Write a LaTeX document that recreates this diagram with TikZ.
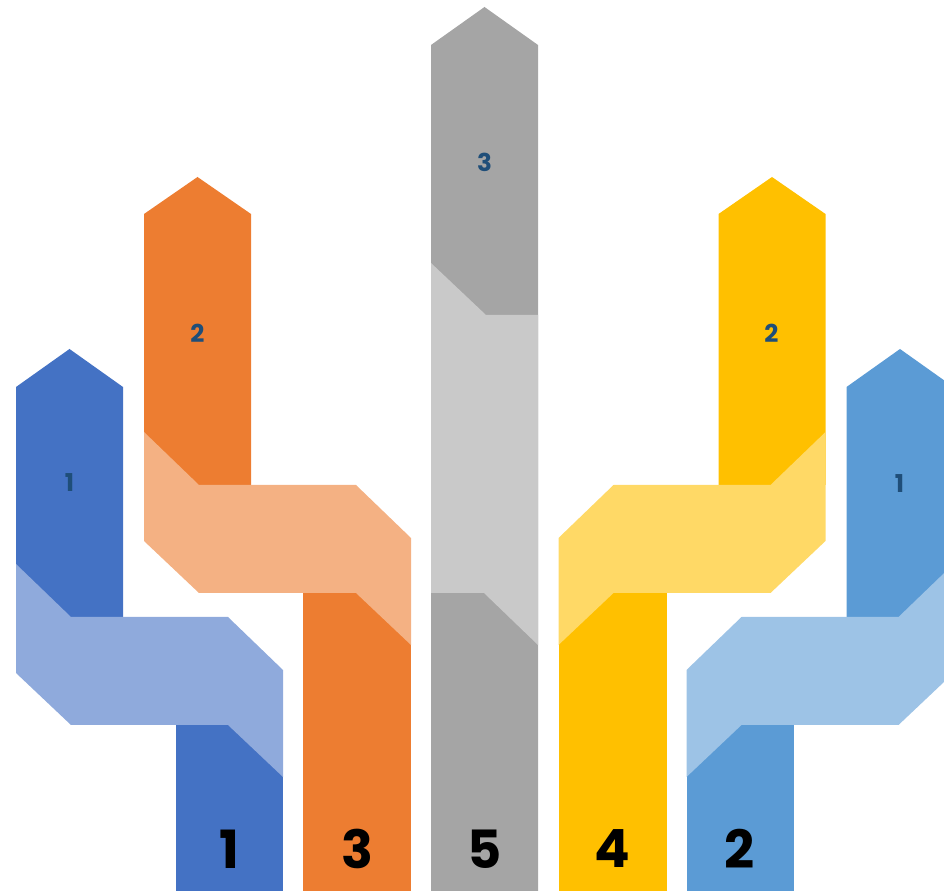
\documentclass[tikz,border=0pt]{standalone}
\usepackage{fontspec}
\setmainfont{Poppins}
\definecolor{cBlue}{HTML}{4472C4}
\definecolor{cBlueLt}{HTML}{8FAADC}
\definecolor{cOrange}{HTML}{ED7D31}
\definecolor{cOrangeLt}{HTML}{F4B183}
\definecolor{cGray}{HTML}{A5A5A5}
\definecolor{cGrayLt}{HTML}{C9C9C9}
\definecolor{cGold}{HTML}{FFC000}
\definecolor{cGoldLt}{HTML}{FFD966}
\definecolor{cSky}{HTML}{5B9BD5}
\definecolor{cSkyLt}{HTML}{9DC3E6}
\definecolor{cTag}{HTML}{1F4E79}
\tikzset{
  tag/.style={font=\fontsize{14}{14}\selectfont\bfseries, text=cTag, inner sep=0pt},
  rank/.style={font=\fontsize{30}{30}\selectfont\bfseries, text=black, inner sep=0pt},
}

\begin{document}
\begin{tikzpicture}[x=0.02cm,y=-0.02cm]
\useasboundingbox (0,0) rectangle (944,891);
\clip (0,0) rectangle (944,891);

% ------------------------------------------------------------ left half
% blue ribbon
\fill[cBlue] (16,387) -- (69.5,349) -- (123,387) -- (123,617) -- (16,617) -- cycle;
\fill[cBlue] (176,725) rectangle (283,891);
\fill[cBlueLt] (16,564) -- (71,617) -- (228,617) -- (283,670) -- (283,777)
      -- (228,725) -- (71,725) -- (16,673) -- cycle;

% orange ribbon
\fill[cOrange] (144,214) -- (197.5,177) -- (251,214) -- (251,485) -- (144,485) -- cycle;
\fill[cOrange] (303,593) rectangle (411,891);
\fill[cOrangeLt] (144,432) -- (199,485) -- (356,485) -- (411,538) -- (411,645)
      -- (356,593) -- (199,593) -- (144,541) -- cycle;

% ------------------------------------------------------------ middle column
\fill[cGray] (431,45) -- (484.5,7) -- (538,45) -- (538,891) -- (431,891) -- cycle;
\fill[cGrayLt] (431,263) -- (486,315) -- (538,315) -- (538,645) -- (484,593)
      -- (431,593) -- cycle;

% ------------------------------------------------------------ right half (mirrored)
\begin{scope}[shift={(969.5,0)}, xscale=-1]
  % gold ribbon
  \fill[cGold] (144,214) -- (197.5,177) -- (251,214) -- (251,485) -- (144,485) -- cycle;
  \fill[cGold] (303,593) rectangle (411,891);
  \fill[cGoldLt] (144,432) -- (199,485) -- (356,485) -- (411,538) -- (411,645)
        -- (356,593) -- (199,593) -- (144,541) -- cycle;
  % sky ribbon
  \fill[cSky] (16,387) -- (69.5,349) -- (123,387) -- (123,617) -- (16,617) -- cycle;
  \fill[cSky] (176,725) rectangle (283,891);
  \fill[cSkyLt] (16,564) -- (71,617) -- (228,617) -- (283,670) -- (283,777)
        -- (228,725) -- (71,725) -- (16,673) -- cycle;
\end{scope}

% ------------------------------------------------------------ labels
\node[tag] (tagBlue)   at (69.5,483)  {1};
\node[tag] (tagOrange) at (197.5,333) {2};
\node[tag] (tagGray)   at (484.5,162) {3};
\node[tag] (tagGold)   at (771.5,333) {2};
\node[tag] (tagSky)    at (899.5,484) {1};

\node[rank] (rnkBlue)   at (229.5,849) {1};
\node[rank] (rnkOrange) at (357,849)   {3};
\node[rank] (rnkGray)   at (484.5,849) {5};
\node[rank] (rnkGold)   at (612,849)   {4};
\node[rank] (rnkSky)    at (740,849)   {2};

\end{tikzpicture}
\end{document}
